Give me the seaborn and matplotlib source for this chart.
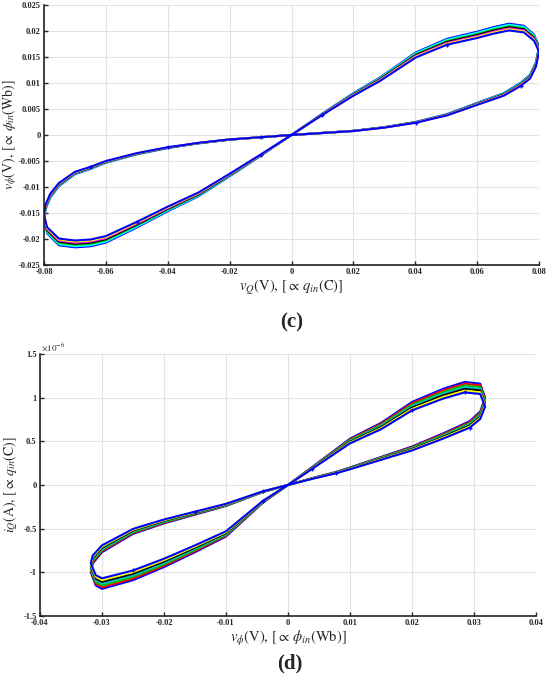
import pandas as pd
import seaborn as sns
import matplotlib.pyplot as plt
from matplotlib.ticker import FuncFormatter, MultipleLocator

# Panel (c): outermost loop, v_Q (V) vs v_phi (V)
vq = [0, 0.01, 0.02, 0.0286, 0.0402, 0.0503, 0.0603, 0.065, 0.0703, 0.0751, 0.0784, 0.080,
      0.079, 0.0771, 0.0741, 0.0686, 0.0603, 0.0503, 0.0402, 0.03, 0.02, 0.01, 0,
      -0.01, -0.02, -0.03, -0.04, -0.05, -0.06, -0.065, -0.07, -0.0752, -0.078, -0.0795, -0.080,
      -0.079, -0.0752, -0.07, -0.065, -0.06, -0.05, -0.04, -0.03, -0.02, -0.01, 0]
vphi = [0, 0.0041, 0.0080, 0.0110, 0.0158, 0.0184, 0.0198, 0.0206, 0.0213, 0.0209, 0.0192, 0.0170,
        0.0139, 0.0115, 0.0100, 0.0080, 0.0062, 0.0040, 0.0025, 0.0015, 0.0008, 0.0004, 0,
        -0.00045, -0.0009, -0.0016, -0.0025, -0.0037, -0.0053, -0.0065, -0.0075, -0.0098, -0.0120, -0.0142, -0.0163,
        -0.0188, -0.0211, -0.0215, -0.0213, -0.0206, -0.0177, -0.0146, -0.0117, -0.0079, -0.0040, 0]
# per-curve peak of each loop in (c), outer -> inner
c_colors = ['#0000ff', '#00ffff', '#00c000', '#000000', '#ff00ff', '#ffff00', '#0000ff']
c_peaks = [0.0214, 0.0212, 0.0209, 0.0207, 0.0205, 0.0203, 0.0201]
c_marks = [1, 5, 14, 18, 23, 26, 29, 40, 44]

# Panel (d): outermost loop, v_phi (V) vs i_Q (x1e-6 A)
vphi_d = [0, 0.0038, 0.01, 0.015, 0.02, 0.025, 0.0285, 0.031, 0.0318,
          0.031, 0.0293, 0.025, 0.02, 0.015, 0.01, 0.0078, 0.004, 0,
          -0.004, -0.01, -0.015, -0.02, -0.025, -0.03, -0.0315, -0.0318,
          -0.031, -0.03, -0.025, -0.02, -0.015, -0.01, -0.004, 0]
iq = [0, 0.20, 0.53, 0.71, 0.95, 1.10, 1.18, 1.16, 1.00,
      0.84, 0.73, 0.59, 0.44, 0.32, 0.20, 0.15, 0.08, 0,
      -0.08, -0.24, -0.34, -0.44, -0.56, -0.77, -0.90, -1.00,
      -1.15, -1.19, -1.09, -0.94, -0.77, -0.59, -0.20, 0]
d_colors = ['#0000ff', '#ff0000', '#00c000', '#00c0c0', '#000000', '#ffff00', '#0000ff']
d_peaks = [1.18, 1.16, 1.14, 1.12, 1.10, 1.08, 1.06]
d_marks = [1, 4, 6, 10, 15, 18, 20, 28, 32]

sns.set_style("whitegrid", {'grid.color': '#e3e3e3', 'axes.edgecolor': '#222222'})
plt.rcParams['mathtext.fontset'] = 'stix'
plt.rcParams['font.family'] = ['Liberation Serif', 'DejaVu Serif']

fig = plt.figure(figsize=(5.5, 6.88), dpi=100)
ax1 = fig.add_axes([0.080, 0.6148, 0.900, 0.3780])
ax2 = fig.add_axes([0.0727, 0.1047, 0.9018, 0.3808])


def fmt(v, pos):
    return '%g' % (round(v, 6) + 0.0)


def draw_loops(ax, xs, ys, colors, peaks, marks):
    top = max(ys)
    for i, (col, pk) in enumerate(zip(colors, peaks)):
        df = pd.DataFrame({'x': xs, 'y': [v * pk / top for v in ys]})
        kw = {}
        if i == len(colors) - 1:
            kw = dict(marker='+', markersize=3.5, markevery=marks,
                      markeredgecolor=col, markeredgewidth=1)
        sns.lineplot(data=df, x='x', y='y', sort=False, estimator=None,
                     color=col, linewidth=1.5, ax=ax, **kw)


draw_loops(ax1, vq, vphi, c_colors, c_peaks, c_marks)
draw_loops(ax2, vphi_d, iq, d_colors, d_peaks, d_marks)

for ax in (ax1, ax2):
    ax.spines['top'].set_visible(False)
    ax.spines['right'].set_visible(False)
    ax.spines['left'].set_linewidth(1.2)
    ax.spines['bottom'].set_linewidth(1.2)
    ax.tick_params(direction='in', length=3, width=1, left=True, bottom=True, pad=2.5)
    ax.xaxis.set_major_formatter(FuncFormatter(fmt))
    ax.yaxis.set_major_formatter(FuncFormatter(fmt))
    ax.grid(True, linewidth=0.8)

ax1.set_xlim(-0.08, 0.08)
ax1.set_ylim(-0.025, 0.025)
ax1.xaxis.set_major_locator(MultipleLocator(0.02))
ax1.yaxis.set_major_locator(MultipleLocator(0.005))
ax1.set_xlabel(r'$v_Q(\mathrm{V}),\,[\propto\, q_{in}(\mathrm{C})]$', fontsize=10.5, labelpad=1)
ax1.set_ylabel(r'$v_\phi(\mathrm{V}),\,[\propto\, \phi_{in}(\mathrm{Wb})]$', fontsize=10, labelpad=0)

ax2.set_xlim(-0.04, 0.04)
ax2.set_ylim(-1.5, 1.5)
ax2.xaxis.set_major_locator(MultipleLocator(0.01))
ax2.yaxis.set_major_locator(MultipleLocator(0.5))
ax2.set_xlabel(r'$v_\phi(\mathrm{V}),\,[\propto\, \phi_{in}(\mathrm{Wb})]$', fontsize=10.5, labelpad=1)
ax2.set_ylabel(r'$i_Q(\mathrm{A}),\,[\propto\, q_{in}(\mathrm{C})]$', fontsize=10, labelpad=2)
ax2.text(0.002, 1.003, r'$\times10^{-6}$', transform=ax2.transAxes, fontsize=6.5,
         ha='left', va='bottom')

for ax in (ax1, ax2):
    for lab in ax.get_xticklabels() + ax.get_yticklabels():
        lab.set_fontsize(6)
        lab.set_fontweight('bold')

fig.text(0.53, 1 - 322 / 688, '(c)', fontsize=15, fontweight='bold', ha='center', va='center')
fig.text(0.527, 1 - 663 / 688, '(d)', fontsize=15, fontweight='bold', ha='center', va='center')

fig.savefig('out.png', dpi=100)
